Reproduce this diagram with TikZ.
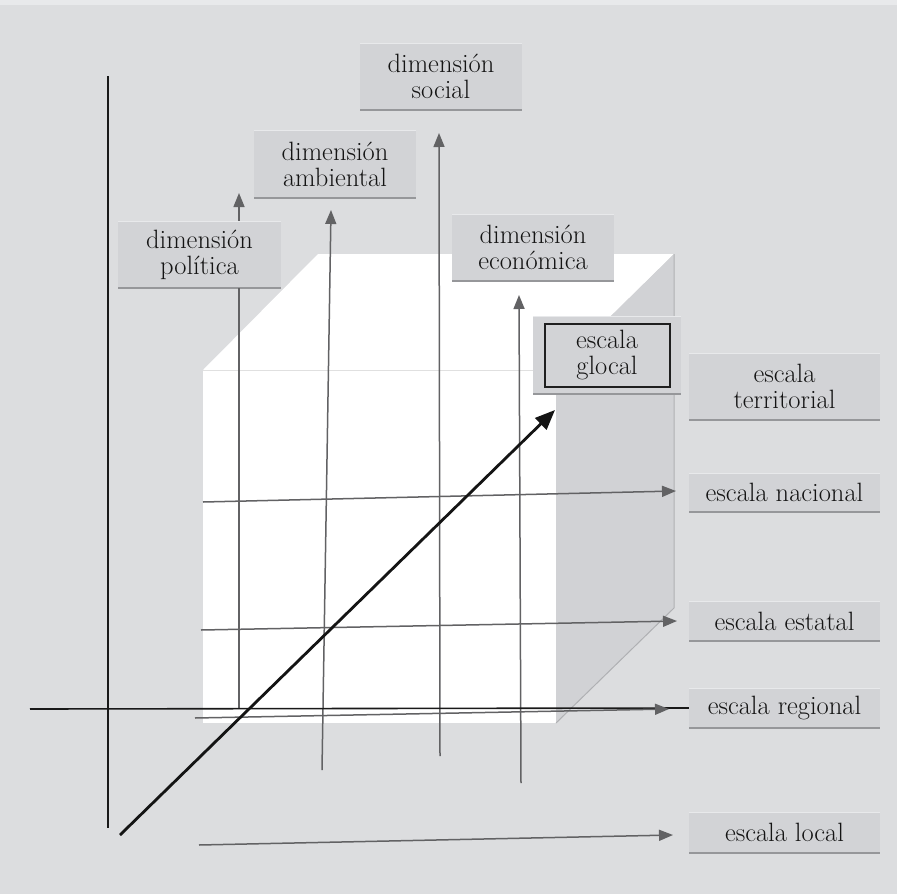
\documentclass[tikz,border=0pt]{standalone}
\usetikzlibrary{arrows.meta}
\definecolor{bgc}{RGB}{220,221,223}
\definecolor{topc}{RGB}{232,233,235}
\definecolor{boxc}{RGB}{210,211,214}
\definecolor{sidec}{RGB}{209,210,213}
\definecolor{linec}{RGB}{98,98,100}
\definecolor{shc}{RGB}{150,151,154}
\definecolor{edgec}{RGB}{175,176,179}
\definecolor{txtc}{RGB}{20,20,20}
\begin{document}
\begin{tikzpicture}[x=1pt,y=-1pt,
  lbl/.style={rectangle, fill=boxc, inner sep=0pt, align=center, text=txtc,
    font=\fontsize{26.5}{26}\selectfont, minimum width=#1,
    path picture={\draw[shc, line width=3pt] (path picture bounding box.south west) -- (path picture bounding box.south east);
                  \draw[topc, line width=1.5pt] (path picture bounding box.north west) -- (path picture bounding box.north east);}},
  garrow/.style={draw=linec, line width=1.5pt, -{Triangle[length=14pt,width=11pt]}},
  gline/.style={draw=linec, line width=1.5pt},
  axis/.style={draw=black!90, line width=1.6pt},
  barrow/.style={draw=black!92, line width=2.8pt, -{Triangle[length=20pt,width=16pt]}}]
\useasboundingbox (0,0) rectangle (897,894);
\fill[bgc] (0,0) rectangle (897,894);
\fill[topc] (0,0) rectangle (897,5);
% cube
\fill[white] (203,370) -- (318,254) -- (674,254) -- (556,370) -- cycle;
\fill[white] (203,370) rectangle (556,723);
\fill[sidec] (556,370) -- (674,254) -- (674,608) -- (556,723) -- cycle;
\draw[edgec, line width=1pt] (674,254) -- (674,608) -- (556,723);
\draw[black!12, line width=1pt] (203,370) -- (556,370);
% coordinates
\coordinate (polTip) at (239,193);
\coordinate (polBase) at (239,709);
\coordinate (ambTip) at (331,210);
\coordinate (ambBase) at (322,770);
\coordinate (socTip) at (439,133);
\coordinate (socBase) at (440,756);
\coordinate (ecoTip) at (519,295);
\coordinate (ecoBase) at (521,783);
\coordinate (nacS) at (203,502);
\coordinate (nacT) at (676,491);
\coordinate (estS) at (201,630);
\coordinate (estT) at (677,621);
\coordinate (regS) at (195,718);
\coordinate (regT) at (669,709);
\coordinate (locS) at (199,845);
\coordinate (locT) at (673,835);
\coordinate (axTop) at (108,76);
\coordinate (axBot) at (108,828);
\coordinate (axL) at (30,709);
\coordinate (gS) at (120,835);
\coordinate (gT) at (555,410);
% boxes
\node[lbl=163, minimum height=67] (pol) at (199.5,254.5) {dimensión\\política};
\node[lbl=162, minimum height=68] (amb) at (335,164) {dimensión\\ambiental};
\node[lbl=162, minimum height=67] (soc) at (441,76.5) {dimensión\\social};
\node[lbl=162, minimum height=67] (eco) at (533,247.5) {dimensión\\económica};
\node[lbl=191, minimum height=67] (ter) at (784.5,386.5) {escala\\territorial};
\node[lbl=191, minimum height=39] (nac) at (784.5,492.5) {escala nacional};
\node[lbl=191, minimum height=40] (est) at (784.5,621.5) {escala estatal};
\node[lbl=191, minimum height=40] (reg) at (784.5,708) {escala regional};
\node[lbl=191, minimum height=41] (loc) at (784.5,832.5) {escala local};
% connectors
\draw[gline] (polBase) -- (pol.south -| polBase);
\draw[garrow] (pol.north -| polTip) -- (polTip);
\draw[garrow] (ambBase) -- (ambTip);
\draw[garrow] (socBase) -- (socTip);
\draw[garrow] (ecoBase) -- (ecoTip);
\draw[garrow] (nacS) -- (nacT);
\draw[garrow] (estS) -- (estT);
\draw[axis] (axTop) -- (axBot);
\draw[axis] (axL) -- (reg.west);
\draw[garrow] (regS) -- (regT);
\draw[garrow] (locS) -- (locT);
\draw[barrow] (gS) -- (gT);
% glocal box
\node[lbl=148, minimum height=78] (glo) at (607,355) {};
\node[draw=black!88, line width=2pt, rectangle, minimum width=125, minimum height=63, inner sep=0pt,
      align=center, text=txtc, font=\fontsize{26.5}{26}\selectfont] (gloin) at (glo.center) {escala\\glocal};
\end{tikzpicture}
\end{document}
